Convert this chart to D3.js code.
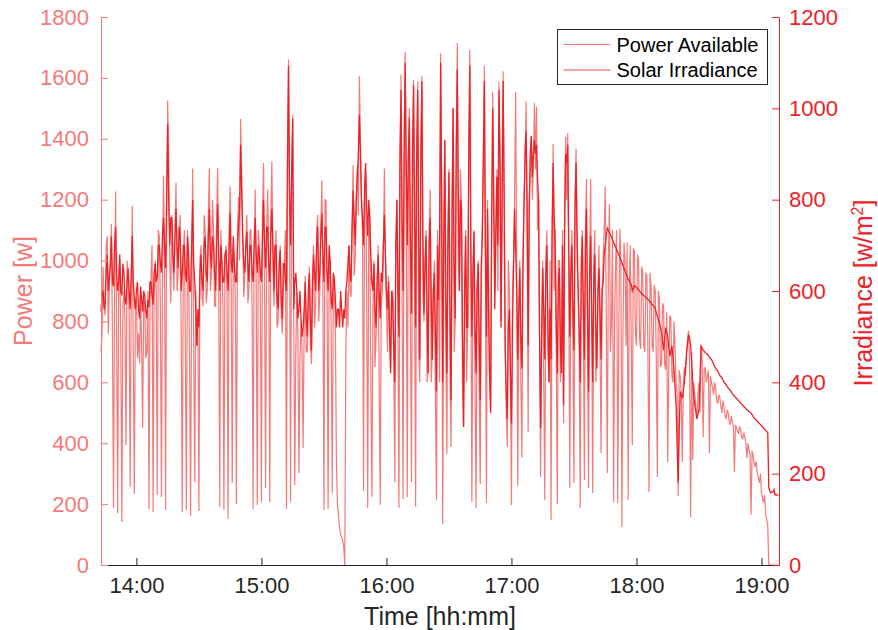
<!DOCTYPE html>
<html>
<head>
<meta charset="utf-8">
<script src="https://cdn.jsdelivr.net/npm/d3@7"></script>
<style>
  body { margin: 0; background: #fff; }
  svg text { font-family: "Liberation Sans", Arial, Helvetica, sans-serif; }
</style>
</head>
<body>
<div id="chart"></div>
<script>
// minutes since midnight of the first sample (13:43)
// samples are read on the minute and on the half minute
const startMinute = 823;

// Power Available [W], on the minute
const powerAvailable = [
  700, 980, 820, 1080, 900, 1120, 187, 1227, 170, 1000,
  141, 900, 394, 960, 256, 1180, 233, 880, 760, 900,
  450, 850, 700, 184, 950, 174, 1000, 230, 1080, 223,
  1279, 181, 1526, 1000, 1150, 900, 1256, 950, 1150, 174,
  1100, 181, 1000, 161, 1302, 273, 721, 177, 1050, 850,
  1100, 900, 1302, 950, 1100, 850, 1305, 191, 1000, 181,
  1050, 151, 1244, 269, 1000, 200, 1209, 1465, 1100, 950,
  1150, 900, 1100, 184, 1233, 197, 1050, 207, 1320, 253,
  1233, 207, 1326, 850, 1100, 800, 1050, 760, 1000, 184,
  1660, 207, 1480, 263, 900, 302, 800, 384, 950, 700,
  980, 660, 1050, 850, 1150, 900, 1262, 181, 1198, 184,
  1000, 236, 950, 329, 160, 100, 80, 0, 900, 1050,
  880, 1314, 1000, 1300, 1605, 1200, 243, 1300, 187, 1150,
  223, 1000, 750, 1050, 197, 900, 1302, 850, 950, 650,
  900, 273, 1200, 187, 1611, 217, 1686, 223, 1500, 273,
  1593, 191, 1587, 600, 1605, 800, 1100, 650, 1233, 700,
  1000, 214, 900, 1680, 135, 1396, 365, 1300, 388, 1500,
  800, 1715, 900, 1200, 453, 1100, 800, 1692, 207, 1100,
  187, 1000, 266, 1100, 1640, 204, 900, 520, 1553, 900,
  1300, 1587, 800, 1622, 700, 388, 900, 197, 1000, 1553,
  260, 1000, 352, 1200, 1523, 437, 1300, 1200, 1518, 1506,
  1200, 289, 1000, 214, 1100, 600, 148, 1384, 1100, 200,
  1000, 700, 466, 1407, 1419, 253, 1100, 269, 1367, 900,
  187, 1100, 279, 1268, 253, 1268, 236, 1100, 700, 1050,
  368, 1000, 1244, 302, 1186, 800, 207, 1000, 204, 1105,
  125, 1058, 720, 214, 1050, 394, 1030, 720, 1000, 710,
  960, 700, 950, 240, 920, 700, 900, 289, 880, 660,
  850, 640, 338, 820, 620, 800, 600, 227, 620, 338,
  650, 700, 770, 158, 345, 560, 480, 600, 725, 420,
  650, 620, 368, 600, 560, 580, 530, 550, 500, 520,
  480, 500, 460, 470, 306, 450, 430, 445, 415, 420,
  352, 380, 164, 360, 322, 300, 270, 235, 205, 165,
  130, 0, 0, 0, 0, 0
];

// Power Available [W], on the half minute
const powerAvailableHalf = [
  760, 850, 1050, 760, 1000, 740, 900, 760, 950, 733,
  850, 800, 1000, 820, 900, 700, 850, 680, 663, 720,
  880, 680, 900, 860, 1050, 880, 900, 1100, 850, 950,
  1000, 1150, 1300, 860, 1000, 1100, 900, 1100, 760, 1000,
  700, 1100, 680, 900, 700, 900, 800, 1000, 880, 1150,
  860, 1150, 900, 1200, 850, 1150, 900, 1100, 860, 1000,
  880, 1100, 900, 1050, 860, 1100, 1000, 1300, 880, 1050,
  860, 1100, 850, 1050, 900, 1100, 860, 1150, 900, 1100,
  1000, 1150, 1000, 1000, 780, 950, 820, 900, 1100, 1200,
  1100, 1250, 800, 700, 750, 680, 700, 780, 700, 850,
  720, 900, 780, 1100, 800, 1100, 900, 1200, 900, 1000,
  750, 900, 760, 200, 120, 90, 60, 700, 780, 900,
  1100, 950, 1200, 1150, 1400, 1100, 1250, 900, 1100, 600,
  850, 650, 900, 600, 850, 1000, 1000, 700, 800, 900,
  660, 1000, 800, 1300, 900, 1400, 1100, 1300, 800, 1200,
  900, 1300, 700, 1300, 900, 1000, 600, 1100, 600, 900,
  550, 1100, 600, 1200, 900, 700, 1100, 600, 1200, 700,
  1400, 1000, 1300, 600, 800, 600, 1300, 1000, 900, 600,
  900, 600, 1000, 1300, 900, 1200, 600, 1100, 1200, 1100,
  900, 1300, 1100, 1200, 500, 1000, 600, 900, 1200, 1000,
  800, 600, 1000, 1300, 1100, 1200, 1400, 1300, 1300, 1100,
  700, 800, 600, 1000, 700, 1000, 1100, 900, 700, 1000,
  600, 1100, 1200, 1200, 900, 1000, 700, 1200, 1000, 700,
  1000, 800, 1100, 700, 1000, 800, 1000, 600, 900, 700,
  900, 1100, 800, 1000, 700, 1100, 800, 1100, 750, 1000,
  750, 1000, 1060, 900, 720, 1040, 760, 1020, 740, 980,
  720, 960, 700, 960, 720, 920, 680, 900, 650, 860,
  660, 830, 640, 810, 600, 720, 560, 640, 560, 600,
  620, 740, 650, 700, 600, 520, 560, 500, 680, 640,
  600, 640, 620, 580, 600, 540, 560, 520, 540, 490,
  510, 470, 490, 455, 460, 440, 455, 420, 435, 400,
  400, 365, 375, 335, 340, 285, 300, 220, 230, 150,
  0, 0, 0, 0, 0
];

// Solar Irradiance [W/m^2], on the minute
const solarIrradiance = [
  555, 600, 575, 680, 630, 720, 610, 740, 600, 680,
  590, 640, 570, 650, 560, 720, 580, 600, 560, 610,
  555, 590, 540, 565, 620, 570, 660, 630, 700, 640,
  760, 650, 965, 700, 760, 640, 780, 650, 720, 640,
  700, 620, 680, 600, 800, 620, 480, 520, 680, 600,
  720, 620, 780, 650, 700, 600, 790, 600, 660, 620,
  690, 600, 770, 640, 660, 620, 740, 920, 720, 640,
  730, 620, 700, 620, 760, 640, 680, 620, 800, 650,
  740, 620, 780, 600, 700, 560, 690, 540, 660, 600,
  1093, 700, 977, 620, 600, 560, 540, 520, 620, 500,
  640, 470, 680, 600, 740, 640, 770, 620, 740, 600,
  660, 560, 620, 520, 560, 600, 520, 540, 620, 700,
  620, 820, 700, 850, 985, 800, 700, 880, 720, 760,
  620, 660, 520, 680, 540, 620, 767, 600, 620, 420,
  580, 400, 800, 500, 1040, 600, 1100, 700, 980, 550,
  1050, 520, 1040, 450, 1060, 550, 720, 420, 760, 450,
  640, 380, 580, 1100, 400, 930, 420, 860, 360, 1000,
  540, 1085, 600, 780, 302, 720, 520, 1093, 500, 730,
  420, 660, 360, 720, 1060, 500, 560, 333, 1000, 560,
  850, 1040, 520, 1060, 470, 320, 560, 310, 660, 690,
  450, 650, 430, 780, 950, 480, 900, 850, 930, 920,
  800, 300, 650, 450, 700, 400, 450, 880, 700, 420,
  650, 420, 350, 900, 920, 500, 700, 470, 880, 600,
  400, 720, 450, 780, 380, 720, 400, 680, 430, 650,
  450, 620, 700, 738, 728, 718, 707, 696, 685, 674,
  662, 650, 638, 626, 618, 600, 612, 608, 602, 597,
  592, 588, 584, 579, 574, 568, 562, 545, 530, 510,
  470, 520, 500, 457, 480, 430, 350, 180, 380, 365,
  400, 460, 505, 480, 400, 350, 320, 340, 480, 470,
  465, 462, 455, 450, 440, 430, 425, 415, 410, 400,
  395, 388, 383, 375, 370, 365, 360, 355, 350, 345,
  340, 336, 333, 325, 320, 315, 310, 305, 300, 295,
  290, 162, 160, 165, 155, 152
];

// Solar Irradiance [W/m^2], on the half minute
const solarIrradianceHalf = [
  590, 560, 640, 600, 660, 620, 700, 640, 620, 600,
  660, 580, 620, 600, 640, 620, 560, 620, 540, 580,
  600, 560, 580, 620, 590, 640, 620, 700, 660, 720,
  700, 800, 800, 760, 680, 720, 700, 740, 600, 700,
  640, 720, 600, 700, 660, 560, 560, 640, 620, 700,
  640, 720, 680, 720, 640, 700, 680, 700, 620, 680,
  640, 700, 660, 720, 620, 700, 780, 820, 660, 700,
  660, 700, 640, 700, 680, 700, 640, 720, 700, 740,
  660, 720, 700, 700, 580, 660, 580, 660, 620, 900,
  820, 860, 560, 640, 540, 600, 500, 560, 540, 600,
  540, 620, 640, 700, 600, 720, 680, 740, 640, 700,
  580, 640, 580, 560, 520, 560, 560, 600, 660, 640,
  740, 760, 800, 900, 900, 760, 820, 780, 800, 680,
  600, 560, 620, 600, 640, 700, 680, 560, 500, 600,
  480, 700, 620, 900, 760, 900, 880, 900, 700, 900,
  800, 900, 700, 900, 720, 650, 560, 700, 580, 600,
  500, 700, 720, 800, 720, 600, 700, 560, 760, 640,
  900, 800, 800, 500, 600, 520, 900, 700, 640, 520,
  600, 500, 640, 900, 700, 780, 420, 760, 800, 720,
  700, 900, 820, 800, 380, 520, 420, 520, 780, 600,
  560, 500, 640, 900, 800, 760, 940, 900, 900, 850,
  500, 500, 560, 640, 520, 560, 720, 760, 520, 620,
  480, 700, 720, 880, 700, 640, 560, 780, 720, 520,
  640, 560, 700, 560, 620, 560, 620, 520, 600, 560,
  600, 680, 720, 733, 723, 712, 701, 690, 680, 668,
  656, 644, 632, 622, 615, 606, 610, 605, 600, 594,
  590, 586, 582, 576, 571, 565, 552, 538, 520, 490,
  495, 510, 478, 468, 455, 390, 260, 290, 372, 382,
  430, 485, 495, 440, 370, 335, 330, 410, 475, 468,
  463, 458, 452, 445, 435, 428, 420, 412, 405, 398,
  391, 385, 379, 372, 367, 362, 357, 352, 347, 342,
  338, 334, 329, 322, 317, 312, 307, 302, 297, 292,
  170, 158, 160, 153, 153
];

const powerTicks = [0, 200, 400, 600, 800, 1000, 1200, 1400, 1600, 1800];
const irradianceTicks = [0, 200, 400, 600, 800, 1000, 1200];
const timeTicks = ['14:00', '15:00', '16:00', '17:00', '18:00', '19:00'];
const seriesNames = ['Power Available', 'Solar Irradiance'];

const width = 878, height = 630;
const margin = { left: 101, right: 99, top: 17, bottom: 65 };
const salmon = '#f47a7a';
const red = '#ec2227';
const dark = '#262626';
const tickFont = '22px';

function toMinutes(s) {
  const [h, m] = s.split(':').map(Number);
  return h * 60 + m;
}

// merge the minute and half-minute readings into one time-ordered series
function merge(onMinute, onHalf) {
  const out = [];
  onMinute.forEach((v, i) => {
    out.push({ t: startMinute + i, v });
    if (i < onHalf.length) out.push({ t: startMinute + i + 0.5, v: onHalf[i] });
  });
  return out;
}

const powerData = merge(powerAvailable, powerAvailableHalf);
const irrData = merge(solarIrradiance, solarIrradianceHalf);

const svg = d3.select('#chart').append('svg')
  .attr('width', width)
  .attr('height', height);

const x = d3.scaleLinear()
  .domain([823, 1148.4])
  .range([margin.left, width - margin.right]);

const yLeft = d3.scaleLinear()
  .domain([0, 1800])
  .range([height - margin.bottom, margin.top]);

const yRight = d3.scaleLinear()
  .domain([0, 1200])
  .range([height - margin.bottom, margin.top]);

const powerLine = d3.line()
  .x(d => x(d.t))
  .y(d => yLeft(d.v));

const irrLine = d3.line()
  .x(d => x(d.t))
  .y(d => yRight(d.v));

svg.append('path')
  .datum(powerData)
  .attr('d', powerLine)
  .attr('fill', 'none')
  .attr('stroke', salmon)
  .attr('stroke-width', 1.2);

svg.append('path')
  .datum(irrData)
  .attr('d', irrLine)
  .attr('fill', 'none')
  .attr('stroke', red)
  .attr('stroke-width', 1.3);

// bottom axis
const xAxis = svg.append('g')
  .attr('transform', `translate(0,${height - margin.bottom})`)
  .call(d3.axisBottom(x)
    .tickValues(timeTicks.map(toMinutes))
    .tickFormat((d, i) => timeTicks[i])
    .tickSizeInner(-7)
    .tickSizeOuter(0)
    .tickPadding(12));
xAxis.select('.domain').attr('stroke', dark);
xAxis.selectAll('.tick line').attr('stroke', dark);
xAxis.selectAll('text').attr('fill', dark).attr('font-size', tickFont);

// left axis
const leftAxis = svg.append('g')
  .attr('transform', `translate(${margin.left},0)`)
  .call(d3.axisLeft(yLeft)
    .tickValues(powerTicks)
    .tickFormat(d3.format('d'))
    .tickSizeInner(-7)
    .tickSizeOuter(0)
    .tickPadding(12));
leftAxis.select('.domain').attr('stroke', salmon);
leftAxis.selectAll('.tick line').attr('stroke', salmon);
leftAxis.selectAll('text').attr('fill', salmon).attr('font-size', tickFont);

// right axis
const rightAxis = svg.append('g')
  .attr('transform', `translate(${width - margin.right},0)`)
  .call(d3.axisRight(yRight)
    .tickValues(irradianceTicks)
    .tickFormat(d3.format('d'))
    .tickSizeInner(-7)
    .tickSizeOuter(0)
    .tickPadding(10));
rightAxis.select('.domain').attr('stroke', red);
rightAxis.selectAll('.tick line').attr('stroke', red);
rightAxis.selectAll('text').attr('fill', red).attr('font-size', tickFont);

// axis titles
svg.append('text')
  .attr('x', (margin.left + width - margin.right) / 2)
  .attr('y', 625)
  .attr('text-anchor', 'middle')
  .attr('font-size', '25px')
  .attr('fill', dark)
  .text('Time [hh:mm]');

svg.append('text')
  .attr('transform', 'translate(32,291) rotate(-90)')
  .attr('text-anchor', 'middle')
  .attr('font-size', '25px')
  .attr('fill', salmon)
  .text('Power [w]');

const irrTitle = svg.append('text')
  .attr('transform', 'translate(872,293) rotate(-90)')
  .attr('text-anchor', 'middle')
  .attr('font-size', '25px')
  .attr('fill', red);
irrTitle.append('tspan').text('Irradiance [w/m');
irrTitle.append('tspan').attr('dy', -9).attr('font-size', '16px').text('2');
irrTitle.append('tspan').attr('dy', 9).text(']');

// legend
const legend = svg.append('g').attr('transform', 'translate(557.5,29.5)');
legend.append('rect')
  .attr('width', 210)
  .attr('height', 55)
  .attr('fill', '#fff')
  .attr('stroke', dark)
  .attr('stroke-width', 1);

[salmon, '#ee5050'].forEach((c, i) => {
  legend.append('line')
    .attr('x1', 6).attr('x2', 53)
    .attr('y1', 15 + i * 25.5).attr('y2', 15 + i * 25.5)
    .attr('stroke', c)
    .attr('stroke-width', 1);
  legend.append('text')
    .attr('x', 59)
    .attr('y', 22 + i * 25.5)
    .attr('font-size', '20px')
    .attr('fill', '#000')
    .text(seriesNames[i]);
});
</script>
</body>
</html>
